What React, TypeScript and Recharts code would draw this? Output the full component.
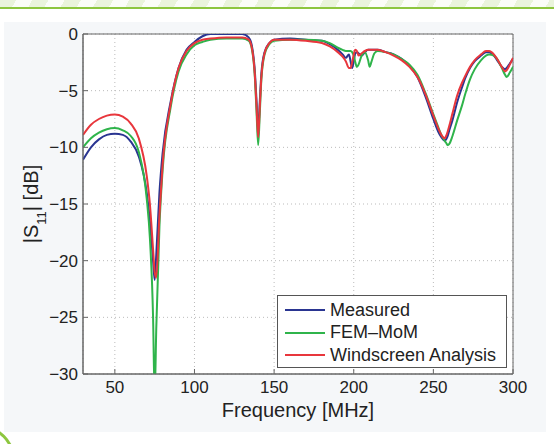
import {
  LineChart,
  Line,
  XAxis,
  YAxis,
  CartesianGrid,
  Legend,
  Label,
  ReferenceArea,
} from "recharts";

const freq = [
  30, 35, 40, 45, 50, 55, 60, 65, 70, 72, 74, 75, 76, 78, 80, 85, 90, 95, 100, 105, 110, 120, 130,
  134, 136, 138, 139, 140, 141, 142, 144, 147, 150, 160, 170, 180, 185, 190, 193, 195, 197, 198,
  199, 200, 201, 202, 203, 205, 207, 209, 210, 211, 213, 215, 220, 225, 230, 235, 240, 245, 250,
  253, 255, 257, 258, 259, 260, 262, 265, 268, 270, 273, 276, 280, 283, 285, 288, 290, 293, 295,
  296, 298, 300,
];

const measured = [
  -11.1, -10.0, -9.3, -8.9, -8.8, -8.9, -9.5, -10.8, -14.0, -16.5, -20.0, -21.7, -19.5, -14.0,
  -10.5, -6.0, -3.0, -1.4, -0.7, -0.2, 0.0, 0.0, 0.0, -0.3, -1.0, -3.5, -6.0, -8.6, -6.0, -3.5,
  -1.6, -0.8, -0.5, -0.4, -0.5, -0.6, -0.9, -1.4, -1.8, -2.1, -1.8, -2.4, -3.0, -2.4, -1.7, -1.6,
  -1.7, -1.9, -1.6, -1.4, -1.4, -1.4, -1.4, -1.4, -1.6, -1.8, -2.2, -2.8, -3.8, -5.5, -7.5, -8.6,
  -9.1, -9.4, -9.3, -9.0, -8.5, -7.6, -6.0, -4.7, -3.9, -3.0, -2.4, -1.9, -1.6, -1.6, -1.9, -2.3,
  -2.9, -3.1, -3.0, -2.6, -2.2,
];

const femMom = [
  -10.0, -9.2, -8.7, -8.4, -8.3, -8.5, -9.0, -10.4, -14.5, -18.0, -25.0, -32.0, -26.0, -17.0,
  -12.0, -6.5, -3.3, -1.8, -1.0, -0.7, -0.5, -0.4, -0.4, -0.6, -1.3, -4.0, -7.0, -9.8, -7.0, -4.0,
  -1.8, -0.9, -0.6, -0.5, -0.5, -0.6, -0.8, -1.2, -1.4, -1.5, -1.5, -1.5, -1.6, -1.9, -2.5, -2.9,
  -2.7, -1.9, -1.6, -2.3, -2.9, -2.5, -1.7, -1.5, -1.6, -1.8, -2.2, -2.7, -3.6, -5.2, -7.1, -8.2,
  -8.9, -9.4, -9.6, -9.8, -9.7, -9.0, -7.6, -6.3, -5.3, -4.0, -3.1, -2.3, -1.9, -1.8, -1.9, -2.2,
  -3.0, -3.6, -3.8, -3.4, -2.9,
];

const windscreen = [
  -8.9, -8.0, -7.5, -7.2, -7.1, -7.3, -7.9, -9.2, -12.5, -15.0, -19.0, -21.0, -21.5, -16.0,
  -11.5, -6.2, -3.0, -1.5, -0.8, -0.5, -0.4, -0.3, -0.3, -0.5, -1.2, -3.8, -6.5, -9.1, -6.5, -3.8,
  -1.7, -0.8, -0.5, -0.5, -0.6, -0.8, -1.1, -1.6, -2.0, -2.4, -3.0, -3.0, -2.5, -1.8, -1.4, -1.5,
  -1.9, -1.7, -1.5, -1.4, -1.4, -1.4, -1.4, -1.4, -1.6, -1.9, -2.3, -2.9, -3.8, -5.3, -7.2, -8.3,
  -8.9, -9.2, -9.0, -8.6, -8.1, -7.0, -5.4, -4.3, -3.7, -2.9, -2.3, -1.8, -1.5, -1.5, -1.8, -2.2,
  -2.9, -3.3, -3.2, -2.7, -2.1,
];

const xTicks = [50, 100, 150, 200, 250, 300];
const yTicks = [0, -5, -10, -15, -20, -25, -30];

const series = [
  { key: "measured", name: "Measured", color: "#2a3591" },
  { key: "femMom", name: "FEM\u2013MoM", color: "#2fb44b" },
  { key: "windscreen", name: "Windscreen Analysis", color: "#e8363c" },
];

const data = freq.map((f, i) => ({
  f,
  measured: measured[i],
  femMom: femMom[i],
  windscreen: windscreen[i],
}));

const font = "'Liberation Sans', Arial, sans-serif";
const tickStyle = { fontSize: 17, fill: "#222", fontFamily: font };

function fmtY(v: number) {
  return v < 0 ? "\u2212" + Math.abs(v) : String(v);
}

function YTitle(props: any) {
  const vb = props.viewBox;
  const cx = vb.x + 15;
  const cy = vb.y + vb.height / 2;
  return (
    <text
      x={cx}
      y={cy}
      transform={`rotate(-90 ${cx} ${cy})`}
      textAnchor="middle"
      fontSize={20}
      fill="#222"
      fontFamily={font}
    >
      |S
      <tspan baselineShift="sub" fontSize={13}>
        11
      </tspan>
      | [dB]
    </text>
  );
}

function LegendBox() {
  return (
    <div
      style={{
        border: "1px solid #555",
        background: "#fff",
        width: 230,
        height: 73,
        boxSizing: "border-box",
        padding: "3px 0 0 7px",
        fontFamily: font,
        fontSize: 18,
        color: "#222",
      }}
    >
      {series.map((s) => (
        <div key={s.key} style={{ display: "flex", alignItems: "center", height: 22.5 }}>
          <span style={{ width: 40, height: 2, background: s.color, marginRight: 5 }} />
          <span>{s.name}</span>
        </div>
      ))}
    </div>
  );
}

function App() {
  return (
    <div
      style={{
        position: "absolute",
        left: 0,
        top: 0,
        width: 554,
        height: 444,
        overflow: "hidden",
        background: "#fff",
      }}
    >
      <div
        style={{
          position: "absolute",
          left: 0,
          top: 0,
          width: 554,
          height: 7,
          background:
            "repeating-linear-gradient(120deg, #eaf4dc 0px, #eaf4dc 14px, #fbfdf8 14px, #fbfdf8 28px)",
        }}
      />
      <div style={{ position: "absolute", left: 0, top: 7, width: 554, height: 2, background: "#8dc63f" }} />
      <div
        style={{ position: "absolute", left: 4, top: 22, width: 542, height: 410, background: "#f5f7f9" }}
      />
      <div
        style={{
          position: "absolute",
          left: -55,
          top: 425,
          width: 70,
          height: 70,
          borderRadius: "50%",
          border: "3px solid #8dc63f",
          boxSizing: "border-box",
        }}
      />
      <div style={{ position: "absolute", left: 0, top: 0 }}>
        <LineChart
          width={554}
          height={444}
          data={data}
          margin={{ top: 34, right: 41, bottom: 20, left: 23 }}
        >
          <CartesianGrid stroke="#bbb" strokeDasharray="1 3" fill="#fff" />
          <XAxis
            dataKey="f"
            type="number"
            domain={[30, 300]}
            ticks={xTicks}
            allowDataOverflow
            height={50}
            axisLine={{ stroke: "#666" }}
            tickLine={{ stroke: "#666" }}
            tickSize={-5}
            tickMargin={12}
            tick={tickStyle}
          >
            <Label
              value="Frequency [MHz]"
              position="insideBottom"
              offset={7}
              style={{ fontSize: 20, fill: "#222", fontFamily: font }}
            />
          </XAxis>
          <XAxis
            xAxisId="top"
            dataKey="f"
            type="number"
            orientation="top"
            domain={[30, 300]}
            ticks={xTicks}
            allowDataOverflow
            height={0}
            axisLine={false}
            tickLine={{ stroke: "#666" }}
            tickSize={-5}
            tick={false}
          />
          <YAxis
            type="number"
            domain={[-30, 0]}
            ticks={yTicks}
            allowDataOverflow
            width={60}
            axisLine={{ stroke: "#666" }}
            tickLine={{ stroke: "#666" }}
            tickSize={-5}
            tickMargin={10}
            tickFormatter={fmtY}
            tick={tickStyle}
          >
            <Label content={YTitle} />
          </YAxis>
          <YAxis
            yAxisId="right"
            type="number"
            orientation="right"
            domain={[-30, 0]}
            ticks={yTicks}
            allowDataOverflow
            width={0}
            axisLine={false}
            tickLine={{ stroke: "#666" }}
            tickSize={-5}
            tick={false}
          />
          <ReferenceArea x1={30} x2={300} y1={-30} y2={0} fill="none" stroke="#666" strokeWidth={1} />
          {series.map((s) => (
            <Line
              key={s.key}
              type="monotone"
              dataKey={s.key}
              name={s.name}
              stroke={s.color}
              strokeWidth={2}
              dot={false}
              isAnimationActive={false}
            />
          ))}
          <Legend
            layout="vertical"
            align="center"
            verticalAlign="middle"
            content={LegendBox}
            wrapperStyle={{ left: 277, top: 295, width: 230 }}
          />
        </LineChart>
      </div>
    </div>
  );
}

export default App;
